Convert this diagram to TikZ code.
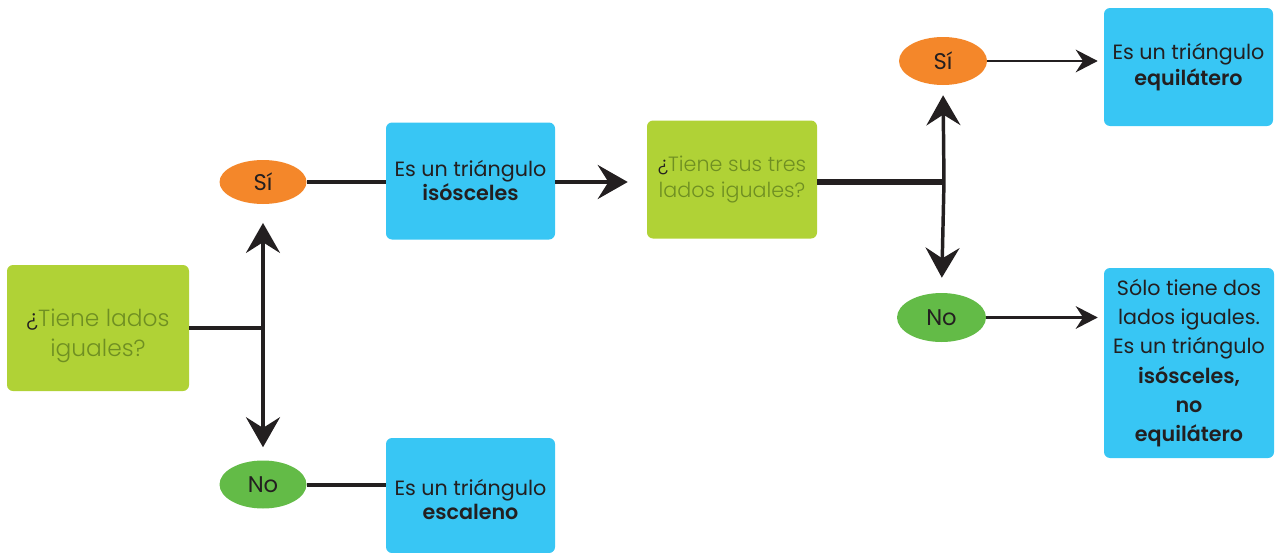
\documentclass[tikz,border=0pt]{standalone}
\usepackage{fontspec}
\setmainfont{Poppins}[BoldFont={Poppins SemiBold}]
\newfontfamily\lightfont{Poppins Light}
\usetikzlibrary{arrows.meta,shapes.geometric}
\definecolor{boxblue}{HTML}{38C6F4}
\definecolor{boxgreen}{HTML}{B0D236}
\definecolor{qtext}{HTML}{6F8F22}
\definecolor{orangeE}{HTML}{F4872A}
\definecolor{greenE}{HTML}{63BB47}
\definecolor{ink}{HTML}{231F20}
\tikzset{
  answerbox/.style={fill=boxblue, rounded corners=4.5pt, inner sep=0pt, align=center, text=ink, font=\fontsize{15.5pt}{18pt}\selectfont},
  questionbox/.style={fill=boxgreen, rounded corners=4.5pt, inner sep=0pt, align=center, text=qtext, font=\lightfont\fontsize{17.5pt}{22.5pt}\selectfont},
  yesoval/.style={ellipse, fill=orangeE, inner sep=0pt, text=ink, font=\fontsize{17pt}{18pt}\selectfont},
  nooval/.style={ellipse, fill=greenE, inner sep=0pt, text=ink, font=\fontsize{17pt}{18pt}\selectfont},
  link/.style={draw=ink, line width=3pt},
  bigarrow/.style={draw=ink, line width=2.8pt, -{Stealth[length=22.5pt, width=25.5pt, inset=8pt]}},
  smallarrow/.style={draw=ink, line width=1.9pt, -{Stealth[length=16.5pt, width=17pt, inset=5.5pt]}}
}
\begin{document}
\begin{tikzpicture}[x=0.75pt,y=-0.75pt]
\useasboundingbox (0,0) rectangle (1279,553);
% nodes
\node[questionbox, minimum width=136.5pt, minimum height=94.5pt] (q1) at (98,328)
  {\rule{0pt}{25pt}{\color{ink}¿}Tiene lados\\iguales?};
\node[yesoval, minimum width=65.25pt, minimum height=33pt] (si1) at (263,182) {Sí};
\node[nooval, minimum width=65.25pt, minimum height=36pt] (no1) at (263,484.5) {No};
\node[answerbox, minimum width=126.75pt, minimum height=87.75pt] (b1) at (470.5,181)
  {Es un triángulo\\\textbf{isósceles}};
\node[answerbox, minimum width=126.75pt, minimum height=86.25pt] (b5) at (470.5,495.5)
  {\rule{0pt}{18pt}Es un triángulo\\\textbf{escaleno}};
\node[questionbox, font=\lightfont\fontsize{15.5pt}{19.5pt}\selectfont, minimum width=127.5pt, minimum height=88.5pt] (q2) at (732,179.5)
  {{\color{ink}¿}Tiene sus tres\\lados iguales?};
\node[yesoval, minimum width=66pt, minimum height=36pt] (si2) at (943,61) {Sí};
\node[nooval, minimum width=66.75pt, minimum height=36.75pt] (no2) at (941.5,317.5) {No};
\node[answerbox, font=\fontsize{15.5pt}{19pt}\selectfont, minimum width=126.75pt, minimum height=88.5pt] (b3) at (1188.5,67)
  {Es un triángulo\\\textbf{equilátero}};
\node[answerbox, font=\fontsize{15.5pt}{22pt}\selectfont, minimum width=127.5pt, minimum height=142.5pt] (b4) at (1189,363)
  {Sólo tiene dos\\lados iguales.\\Es un triángulo\\\textbf{isósceles,}\\\textbf{no}\\\textbf{equilátero}};
% junctions
\coordinate (j1) at (263,328);
\coordinate (j2) at (944,182);
% connectors
\draw[link, line width=3.6pt] (q1.east) -- (j1);
\draw[bigarrow, shorten >=14pt] (j1) -- (si1.south);
\draw[bigarrow, shorten >=9.75pt] (j1) -- (no1.north);
\draw[link] (si1.east) -- (si1.east -| b1.west);
\draw[link] (no1.east) -- (no1.east -| b5.west);
\draw[bigarrow, shorten >=14.25pt] (b1.east |- j2) -- (q2.west |- j2);
\draw[link, line width=3.8pt] (q2.east |- j2) -- (j2);
\draw[bigarrow, line width=2.6pt, shorten >=7.5pt] (j2) -- (si2.south);
\draw[bigarrow, line width=2.6pt, shorten >=11.25pt] (j2) -- (no2.north);
\draw[smallarrow, shorten >=4.5pt] (si2.east) -- (si2.east -| b3.west);
\draw[smallarrow, shorten >=4.5pt] (no2.east) -- (no2.east -| b4.west);
\end{tikzpicture}
\end{document}
